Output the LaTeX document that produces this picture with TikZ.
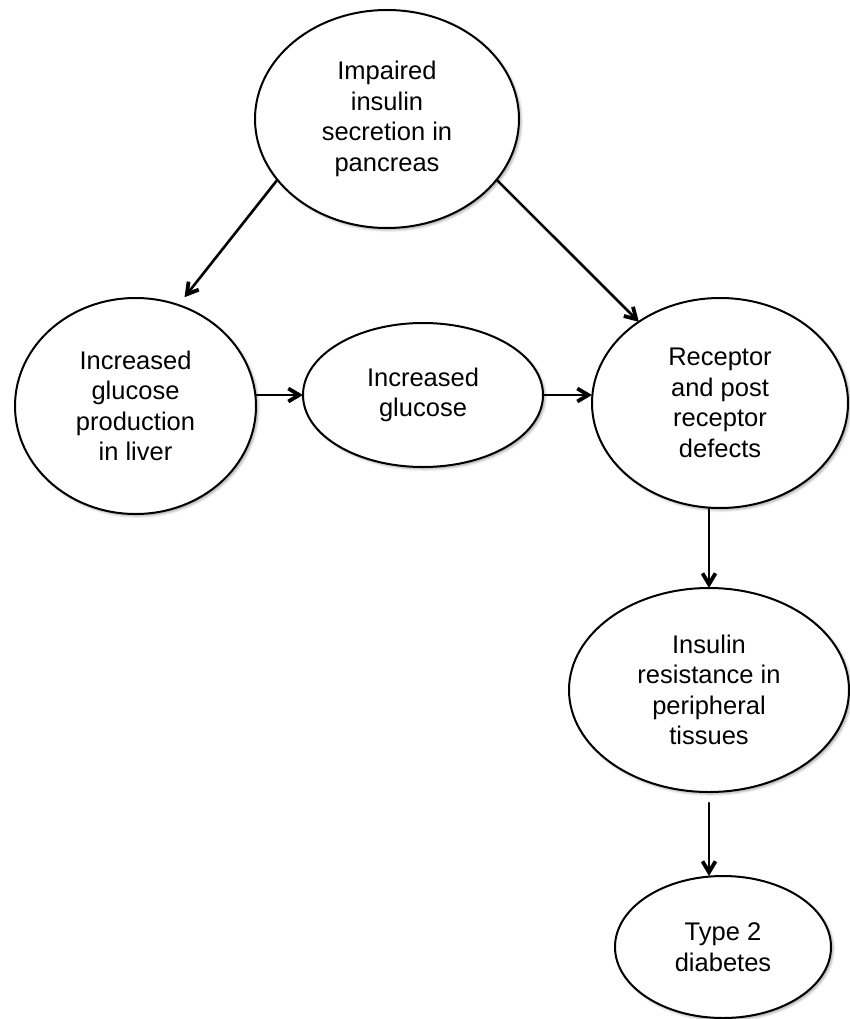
\documentclass[tikz,border=0pt]{standalone}
\usepackage{fontspec}
\setmainfont{Liberation Sans}
\usetikzlibrary{arrows.meta,shapes.geometric,shadows.blur}

\tikzset{
  stage/.style={ellipse, draw=black, line width=2pt, fill=white,
    inner sep=0pt, outer sep=0pt, align=center,
    font=\fontsize{25.5}{30.5}\selectfont,
    blur shadow={shadow xshift=2pt, shadow yshift=-2pt,
      shadow blur radius=2.5pt, shadow opacity=35}},
  link/.style={line width=2.6pt, line cap=round, line join=round,
    -{Straight Barb[length=11pt,width=13pt,line width=3.8pt]}},
}

\begin{document}
\begin{tikzpicture}[x=1pt,y=-1pt]
  \useasboundingbox (0,0) rectangle (849,1019);

  % causal stages
  \node[stage, minimum width=264pt, minimum height=218pt] (pancreas) at (387,119)
    {Impaired\\insulin\\secretion in\\pancreas};
  \node[stage, minimum width=241pt, minimum height=216pt] (liver) at (135.5,406)
    {Increased\\glucose\\production\\in liver};
  \node[stage, minimum width=240pt, minimum height=144pt] (glucose) at (423,395)
    {Increased\\glucose};
  \node[stage, minimum width=256pt, minimum height=210pt] (receptor) at (720,403)
    {Receptor\\and post\\receptor\\defects};
  \node[stage, minimum width=280pt, minimum height=204pt] (resist) at (709,690)
    {Insulin\\resistance in\\peripheral\\tissues};
  \node[stage, minimum width=216pt, minimum height=142pt] (diabetes) at (723,947)
    {Type 2\\diabetes};

  % connectors
  \draw[link, shorten >=10pt] (pancreas.209) -- (liver.67);
  \draw[link] (pancreas.331) -- (receptor.135);
  \draw[link] (glucose.west -| liver.east) -- (glucose.west);
  \draw[link] (glucose.east) -- (glucose.east -| receptor.west);
  \draw[link] (receptor.south -| resist.north) -- (resist.north);
  \draw[link, shorten <=11pt] (resist.south) -- (resist.south |- diabetes.north);
\end{tikzpicture}
\end{document}
